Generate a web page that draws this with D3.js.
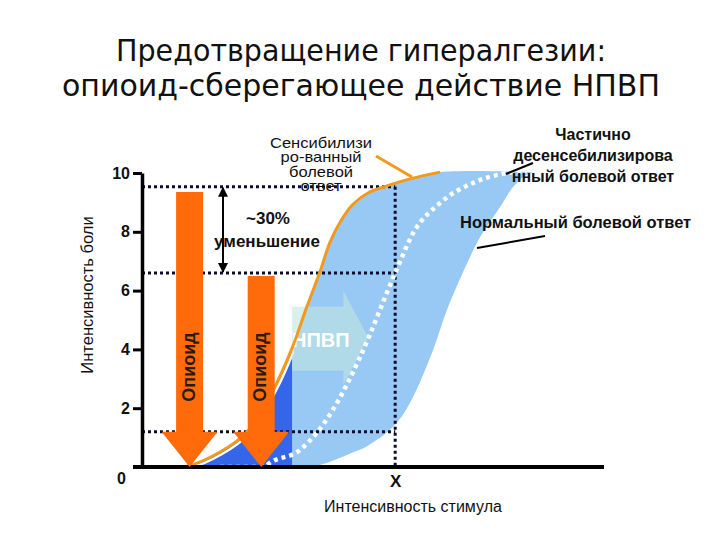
<!DOCTYPE html>
<meta charset="utf-8">
<style>
body { margin: 0; background: #fff; }
text { font-family: "Liberation Sans", Arial, sans-serif; fill: #111; }
</style>
<svg width="720" height="540"></svg>
<script src="https://d3js.org/d3.v7.min.js"></script>
<script>

// pain scale ticks
var painTicks = [0, 2, 4, 6, 8, 10];

// sensitized pain response (orange curve)
var sensStim = [3.9, 9.7, 16.9, 22.7, 28.4, 32.5, 35.5, 38.5, 40.7, 42.9, 45.5, 48.9, 53.0, 58.0, 64.5];
var sensPain = [0, 0.03, 0.51, 1.19, 2.62, 4.05, 5.37, 6.63, 7.65, 8.33, 8.91, 9.32, 9.56, 9.80, 10.03];

// partially desensitized response (white dotted curve)
var partStim = [16.9, 26.6, 27.1, 34.2, 41.3, 47.2, 54.8, 58.7, 64.5, 71.6, 79.0, 83.3];
var partPain = [0, 0, 0.07, 0.58, 1.94, 3.74, 6.6, 7.96, 8.98, 9.66, 10.0, 10.07];

// normal pain response (right edge of the band)
var normStim = [33.5, 38.5, 45.7, 48.7, 54.3, 58.0, 63.0, 66.0, 71.0, 73.2, 77.5, 80.7, 84.6];
var normPain = [0, 0.07, 0.5, 0.71, 1.36, 2.18, 3.98, 5.34, 7.14, 7.82, 8.84, 9.59, 10.03];

// stimulus X and the pain levels read at X
var xMark = 54.8;
var refLevels = [9.53, 6.6, 1.2];

// opioid arrows: stimulus position and top level
var opioidStim = [10.3, 25.8];
var opioidTop = [9.35, 6.5];
var opioidHead = 1.2;

// NSAID shift arrow
var nsaidFrom = 32.5, nsaidTo = 49.0, nsaidLevel = 4.4;

var svg = d3.select("svg");

var x = d3.scaleLinear().domain([0, 100]).range([142, 604]);
var y = d3.scaleLinear().domain([0, 10]).range([467, 173]);

function pts(sx, sy) { return sx.map(function(v, i) { return [v, sy[i]]; }); }

var sens = pts(sensStim, sensPain),
    part = pts(partStim, partPain),
    norm = pts(normStim, normPain);

var smooth = d3.curveCatmullRom.alpha(0.5);

var line = d3.line()
    .x(function(d) { return x(d[0]); })
    .y(function(d) { return y(d[1]); })
    .curve(smooth);

var area = d3.area()
    .x(function(d) { return x(d[0]); })
    .y0(y(0))
    .y1(function(d) { return y(d[1]); })
    .curve(smooth);

// clip regions left / right of the NSAID start
var defs = svg.append("defs");
defs.append("clipPath").attr("id", "clipLight")
  .append("rect").attr("x", x(nsaidFrom)).attr("y", 0).attr("width", 720).attr("height", y(0));
defs.append("clipPath").attr("id", "clipDark")
  .append("rect").attr("x", x(opioidStim[0])).attr("y", 0)
    .attr("width", x(nsaidFrom) - x(opioidStim[0])).attr("height", y(0));

// light blue band between sensitized and normal
var topPain = sensPain[sensPain.length - 1];
var sensExt = sens.concat([[normStim[normStim.length - 1], topPain]]);
svg.append("path")
    .attr("d", area(sensExt))
    .attr("fill", "#98c8f4")
    .attr("clip-path", "url(#clipLight)");
svg.append("path")
    .attr("d", area(norm.concat([[100, topPain]])))
    .attr("fill", "#fff");

// dark blue part under sensitized curve
svg.append("path")
    .attr("d", area(sens))
    .attr("fill", "#3466ea")
    .attr("clip-path", "url(#clipDark)");
svg.append("path")
    .attr("d", line(sens))
    .attr("transform", "translate(2,2)")
    .attr("fill", "none")
    .attr("stroke", "#fff")
    .attr("stroke-width", 2.5)
    .attr("clip-path", "url(#clipDark)");

// NSAID arrow
var ny = y(nsaidLevel), nx0 = x(nsaidFrom), nx1 = x(nsaidTo), nh = nx1 - 25;
svg.append("path")
    .attr("d", "M" + nx0 + "," + (ny - 31) + "L" + nh + "," + (ny - 31) + "L" + nh + "," + (ny - 47) +
               "L" + nx1 + "," + ny + "L" + nh + "," + (ny + 47) + "L" + nh + "," + (ny + 33) +
               "L" + nx0 + "," + (ny + 33) + "Z")
    .attr("fill", "rgb(192,230,222)")
    .attr("fill-opacity", 0.6);
svg.append("text")
    .attr("x", (nx0 + nh) / 2 + 3).attr("y", ny + 9)
    .attr("text-anchor", "middle")
    .style("font-size", "20px").style("font-weight", "bold").style("fill", "#fff")
    .text("НПВП");

// dotted guide lines at X
var guides = svg.append("g")
    .attr("stroke", "#0c0c2a")
    .attr("stroke-width", 3)
    .attr("stroke-dasharray", "3,3");
guides.selectAll("line.h")
    .data(refLevels)
  .enter().append("line")
    .attr("x1", x(0)).attr("x2", x(xMark))
    .attr("y1", function(d) { return y(d); })
    .attr("y2", function(d) { return y(d); });
guides.append("line")
    .attr("x1", x(xMark)).attr("x2", x(xMark))
    .attr("y1", y(refLevels[0])).attr("y2", y(0));

// partially desensitized (white dots)
svg.append("path")
    .attr("d", line.curve(d3.curveMonotoneX)(part))
    .attr("fill", "none")
    .attr("stroke", "#fff")
    .attr("stroke-width", 4.5)
    .attr("stroke-dasharray", "4,4");
line.curve(smooth);

// sensitized curve
svg.append("path")
    .attr("d", line(sens))
    .attr("fill", "none")
    .attr("stroke", "#f39a1e")
    .attr("stroke-width", 3);

// axes
var yAxis = d3.axisLeft(y)
    .tickValues(painTicks)
    .tickSize(9)
    .tickSizeOuter(0)
    .tickPadding(3);
var gy = svg.append("g")
    .attr("transform", "translate(" + x(0) + ",0)")
    .call(yAxis);
gy.select(".domain").attr("stroke", "#000").attr("stroke-width", 3.5);
gy.selectAll(".tick line").attr("stroke", "#000").attr("stroke-width", 3);
gy.selectAll(".tick text")
    .style("font-size", "16px").style("font-weight", "bold")
    .style("font-family", "Liberation Sans, Arial, sans-serif");
gy.selectAll(".tick").filter(function(d) { return d === 0; })
    .select("text").attr("x", -16).attr("dy", "1.05em");

var xAxis = d3.axisBottom(x)
    .tickValues([xMark])
    .tickSize(0)
    .tickSizeOuter(0)
    .tickPadding(8)
    .tickFormat(function() { return "X"; });
var gx = svg.append("g")
    .attr("transform", "translate(0," + y(0) + ")")
    .call(xAxis);
gx.select(".domain").attr("d", "M" + (x(0) - 9) + ",0H" + x(100)).attr("stroke", "#000").attr("stroke-width", 4);
gx.selectAll(".tick text")
    .style("font-size", "17px").style("font-weight", "bold")
    .style("font-family", "Liberation Sans, Arial, sans-serif");

// opioid arrows
var arrows = svg.append("g");
opioidStim.forEach(function(s, i) {
  var cx = x(s), top = y(opioidTop[i]), hb = y(opioidHead), tip = y(0);
  arrows.append("path")
      .attr("d", "M" + (cx - 13.5) + "," + top + "H" + (cx + 13.5) + "V" + hb + "H" + (cx + 28) +
                 "L" + cx + "," + tip + "L" + (cx - 28) + "," + hb + "H" + (cx - 13.5) + "Z")
      .attr("fill", "#ff6a0a");
  arrows.append("text")
      .attr("transform", "translate(" + (cx - 1) + ",367) rotate(-90)")
      .attr("text-anchor", "middle")
      .attr("dominant-baseline", "central")
      .style("font-size", "18px").style("font-weight", "bold")
      .style("fill", "#2a1a10")
      .text("Опиоид");
});

// ~30% reduction marker
var redX = 223;
defs.append("marker")
    .attr("id", "ah").attr("viewBox", "0 0 10 10")
    .attr("refX", 9).attr("refY", 5)
    .attr("markerWidth", 5).attr("markerHeight", 5)
    .attr("orient", "auto-start-reverse")
  .append("path").attr("d", "M0,0L10,5L0,10Z").attr("fill", "#000");
svg.append("line")
    .attr("x1", redX).attr("x2", redX)
    .attr("y1", y(refLevels[0]) + 1).attr("y2", y(refLevels[1]) - 1)
    .attr("stroke", "#000").attr("stroke-width", 2)
    .attr("marker-start", "url(#ah)").attr("marker-end", "url(#ah)");
svg.append("text").attr("x", 268).attr("y", 224).attr("text-anchor", "middle")
    .style("font-size", "17px").style("font-weight", "bold").text("~30%");
svg.append("text").attr("x", 267).attr("y", 247).attr("text-anchor", "middle")
    .style("font-size", "17px").style("font-weight", "bold").text("уменьшение");

// curve labels
svg.append("line").attr("x1", 376).attr("y1", 156).attr("x2", 412).attr("y2", 177)
    .attr("stroke", "#f39a1e").attr("stroke-width", 3);
var sensLab = ["Сенсибилизи", "ро-ванный", "болевой", "ответ"];
svg.append("g")
    .attr("transform", "translate(321,0) scale(1.18,1)")
  .selectAll("text")
    .data(sensLab)
  .enter().append("text")
    .attr("x", 0)
    .attr("y", function(d, i) { return 148 + i * 14.5; })
    .attr("text-anchor", "middle")
    .style("font-size", "14px")
    .text(function(d) { return d; });

svg.append("line").attr("x1", 533).attr("y1", 163).attr("x2", 506).attr("y2", 174)
    .attr("stroke", "#000").attr("stroke-width", 2);
var partLab = ["Частично", "десенсебилизирова", "нный болевой ответ"];
svg.append("g").selectAll("text")
    .data(partLab)
  .enter().append("text")
    .attr("x", 593)
    .attr("y", function(d, i) { return 140 + i * 21; })
    .attr("text-anchor", "middle")
    .style("font-size", "16px").style("font-weight", "bold")
    .text(function(d) { return d; });

svg.append("line").attr("x1", 545).attr("y1", 236).attr("x2", 477).attr("y2", 248)
    .attr("stroke", "#000").attr("stroke-width", 2);
svg.append("text").attr("x", 460).attr("y", 228)
    .style("font-size", "16.5px").style("font-weight", "bold")
    .text("Нормальный болевой ответ");

// axis titles
svg.append("text")
    .attr("transform", "translate(93,295) rotate(-90)")
    .attr("text-anchor", "middle")
    .style("font-size", "16.5px")
    .text("Интенсивность боли");
svg.append("text")
    .attr("x", 413).attr("y", 512)
    .attr("text-anchor", "middle")
    .style("font-size", "16px")
    .text("Интенсивность стимула");

// title
var title = ["Предотвращение гипералгезии:", "опиоид-сберегающее действие НПВП"];
var titleW = [490, 598];
svg.append("g").selectAll("text")
    .data(title)
  .enter().append("text")
    .attr("x", 361)
    .attr("y", function(d, i) { return 61 + i * 35; })
    .attr("text-anchor", "middle")
    .attr("textLength", function(d, i) { return titleW[i]; })
    .attr("lengthAdjust", "spacingAndGlyphs")
    .style("font-family", "DejaVu Sans, sans-serif")
    .style("font-size", "31px")
    .text(function(d) { return d; });

</script>
